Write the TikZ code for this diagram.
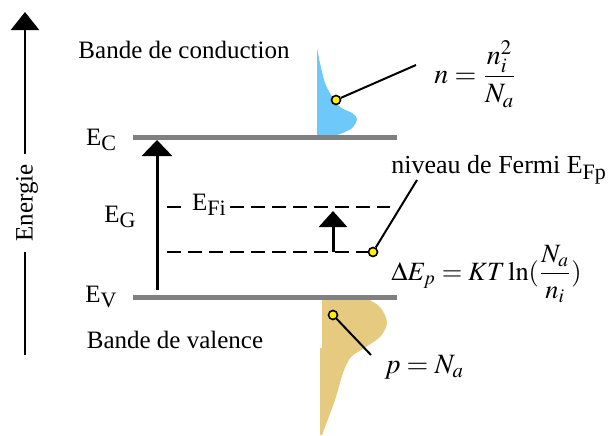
\documentclass[tikz,border=0pt]{standalone}
\usepackage{mathptmx}
\usepackage{fontspec}
\setmainfont{Liberation Serif}
\usepackage{tikz}
\usetikzlibrary{arrows.meta,positioning}

\definecolor{bleubande}{RGB}{110,200,250}
\definecolor{beigebande}{RGB}{230,202,128}
\newcommand{\bas}[1]{\raisebox{-0.45ex}{\fontsize{11}{11}\selectfont #1}}

\begin{document}
\begin{tikzpicture}[x=0.5pt,y=0.5pt,
    niveau/.style={gray, line width=2.5pt},
    fermi/.style={line width=1pt, dash pattern=on 7pt off 3.5pt},
    fleche/.style={line width=1.5pt, -{Triangle[width=14pt,length=8pt]}},
    point/.style={circle, draw=black, fill=yellow, line width=0.8pt, inner sep=0pt, minimum size=4.5pt},
    txt/.style={font=\rmfamily\fontsize{12.5}{15}\selectfont, inner sep=1pt},
    formule/.style={font=\fontsize{14}{16}\selectfont, inner sep=1pt, anchor=west}]
    \useasboundingbox (0,0) rectangle (614,435);

    % Axe des energies
    \coordinate (ebas) at (25,80);
    \coordinate (ehaut) at (25,423);
    \draw[line width=1.2pt, -{Triangle[width=14pt,length=9pt]}] (ebas) -- (ehaut);
    \node[txt, rotate=90, fill=white, inner sep=5pt] (energie) at (27,232) {Energie};

    % Densites d'electrons et de trous
    \fill[bleubande] (317,298) -- (317,387)
        -- plot[smooth] coordinates {(317,387) (320,372) (325,352) (331,340) (340,328) (352,322) (357,316) (351,306) (332,298)} -- cycle;
    \fill[beigebande] (320,0) -- (320,87) -- (322,87) -- (322,137) -- (366,137)
        -- plot[smooth] coordinates {(366,137) (380,128) (387,113) (381,99) (366,88) (351,78) (343,62) (335,35) (322,0)} -- cycle;

    % Niveaux Ec et Ev
    \draw[niveau] (133,298) -- (397,298);
    \draw[niveau] (133,138) -- (397,138);
    \node[txt] (ec) at (101,295) {E\bas{C}};
    \node[txt] (ev) at (101,138) {E\bas{V}};
    \node[txt] (bc) at (184,385) {Bande de conduction};
    \node[txt] (bv) at (175,95) {Bande de valence};

    % Gap
    \coordinate (gbas) at (157,145);
    \coordinate (ghaut) at (157,295);
    \draw[fleche, -{Triangle[width=15pt,length=8pt]}] (gbas) -- (ghaut);
    \node[txt] (eg) at (120,218) {E\bas{G}};

    % Niveaux de Fermi
    \draw[fermi] (167,228) -- (390,228);
    \node[txt, fill=white, inner sep=2pt] (efi) at (209,230) {E\bas{Fi}};
    \draw[fermi] (167,183) -- (370,183);
    \coordinate (dbas) at (333,183);
    \coordinate (dhaut) at (333,224);
    \draw[fleche] (dbas) -- (dhaut);

    % Points et renvois
    \node[point] (pn) at (336,335) {};
    \node[point] (pf) at (373,183) {};
    \node[point] (pp) at (333,120) {};
    \coordinate (rn) at (416,370);
    \coordinate (rf) at (417,255);
    \coordinate (rp) at (371,80);
    \draw[line width=1pt] (pn) -- (rn);
    \draw[line width=1pt] (pf) -- (rf);
    \draw[line width=1pt] (pp) -- (rp);

    % Formules
    \node[formule] (fn) at (432,361) {$n=\displaystyle\frac{n_i^2}{N_a}$};
    \node[txt, anchor=west, font=\rmfamily\fontsize{13}{15}\selectfont] (nf) at (389,265) {niveau de Fermi E\bas{Fp}};
    \node[formule, font=\fontsize{13.2}{15}\selectfont] (fde) at (389,161) {$\Delta E_p = KT\ln(\displaystyle\frac{N_a}{n_i})$};
    \node[formule] (fp) at (382,68) {$p=N_a$};
\end{tikzpicture}
\end{document}
